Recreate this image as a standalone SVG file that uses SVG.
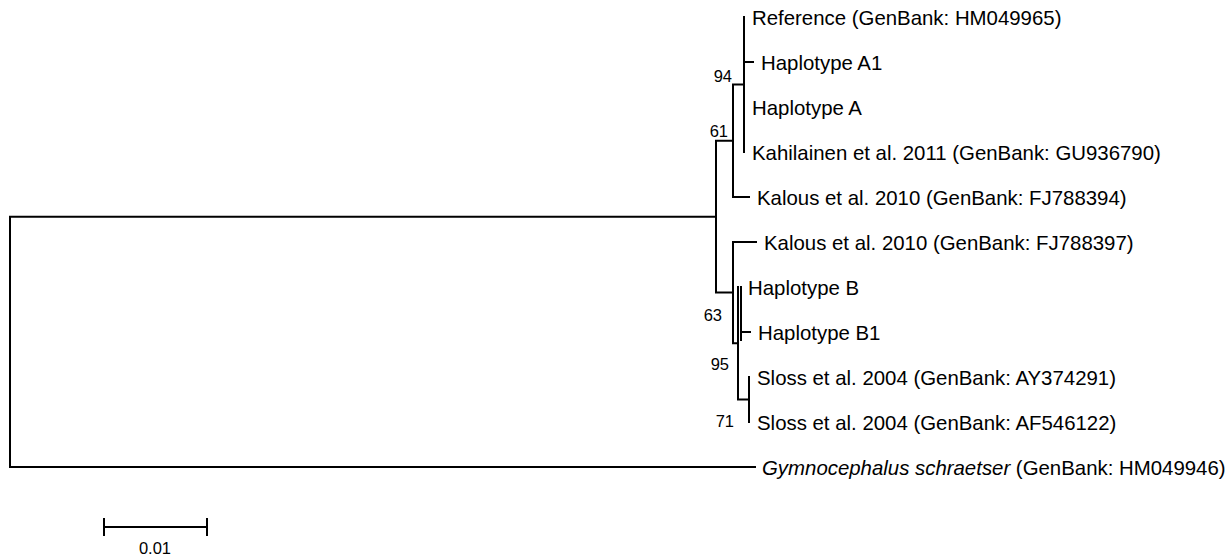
<svg xmlns="http://www.w3.org/2000/svg" width="1229" height="555" viewBox="0 0 1229 555">
<style>
.br{fill:none;stroke:#000;stroke-width:2;stroke-linecap:square}
.tip{font-family:"Liberation Sans",Arial,sans-serif;font-size:20.4px;fill:#000}
.bs{font-family:"Liberation Sans",Arial,sans-serif;font-size:16.5px;fill:#000;text-anchor:end}
.sc{font-family:"Liberation Sans",Arial,sans-serif;font-size:16.5px;fill:#000;text-anchor:middle}
</style>
<rect width="1229" height="555" fill="#fff"/>
<g id="connectors">
<path class="br" d="M10,216.7 V467 M10,216.7 H716 M10,467 H755"/>
<path class="br" d="M716,140.7 V292.6 M716,140.7 H733 M716,292.6 H733"/>
<path class="br" d="M733,84.5 V197 M733,84.5 H744 M733,197 H749"/>
<path class="br" d="M744,17 V152 M744,62 H753"/>
<path class="br" d="M733,242 V343.2 M733,242 H756 M733,343.2 H738"/>
<path class="br" d="M738,287 V399.5 M741,287 V340 M741,332 H750 M738,399.5 H749"/>
<path class="br" d="M749,377 V422"/>
</g>
<g id="tip-reference"><text class="tip" x="752" y="25">Reference (GenBank: HM049965)</text></g>
<g id="tip-hapA1"><text class="tip" x="761" y="70">Haplotype A1</text></g>
<g id="tip-hapA"><text class="tip" x="752" y="115">Haplotype A</text></g>
<g id="tip-kahilainen"><text class="tip" x="752" y="160">Kahilainen et al. 2011 (GenBank: GU936790)</text></g>
<g id="tip-kalous394"><text class="tip" x="757" y="205">Kalous et al. 2010 (GenBank: FJ788394)</text></g>
<g id="tip-kalous397"><text class="tip" x="764" y="250">Kalous et al. 2010 (GenBank: FJ788397)</text></g>
<g id="tip-hapB"><text class="tip" x="748" y="295">Haplotype B</text></g>
<g id="tip-hapB1"><text class="tip" x="758" y="340">Haplotype B1</text></g>
<g id="tip-sloss291"><text class="tip" x="757" y="385">Sloss et al. 2004 (GenBank: AY374291)</text></g>
<g id="tip-sloss122"><text class="tip" x="757" y="430">Sloss et al. 2004 (GenBank: AF546122)</text></g>
<g id="tip-gymno"><text class="tip" x="762" y="475"><tspan font-style="italic">Gymnocephalus schraetser</tspan> (GenBank: HM049946)</text></g>
<g id="bootstrap">
<text class="bs" x="732" y="82">94</text>
<text class="bs" x="728" y="137">61</text>
<text class="bs" x="722" y="321">63</text>
<text class="bs" x="729" y="370">95</text>
<text class="bs" x="734" y="427">71</text>
</g>
<g id="scale">
<path class="br" d="M104,527 H207 M104,519 V535 M207,519 V535" stroke-linecap="butt"/>
<text class="sc" x="155" y="554">0.01</text>
</g>
</svg>
